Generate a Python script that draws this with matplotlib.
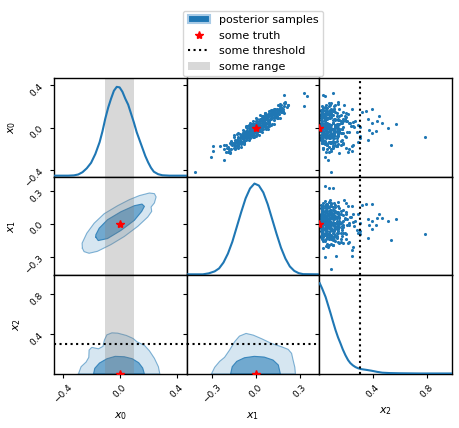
import numpy as np
import matplotlib
matplotlib.use("Agg")
import matplotlib.pyplot as plt
from matplotlib.patches import Patch
from matplotlib.lines import Line2D

plt.rcParams['font.size'] = 8

# parameter names, limits and ticks
labels = ['$x_0$', '$x_1$', '$x_2$']
limits = [(-0.46, 0.47), (-0.47, 0.43), (0.0, 0.99)]
ticks = [[-0.4, 0.0, 0.4], [-0.3, 0.0, 0.3], [0.4, 0.8]]
truth = [0.0, 0.0, 0.0]
threshold_x2 = 0.3
range_x0 = (-0.1, 0.1)

# posterior samples
core_x1 = [-0.01, 0.03, -0.06, 0.08, 0.00, -0.11, 0.05, -0.03, 0.12, -0.08,
           0.02, -0.04, 0.10, -0.14, 0.06, -0.02, 0.15, -0.09, 0.01, 0.04,
           -0.05, 0.07, -0.12, 0.13, 0.00, -0.07, 0.09, -0.01, 0.18, -0.16,
           0.03, -0.10, 0.11, -0.03, 0.06, -0.18, 0.14, -0.06, 0.02, 0.20,
           -0.02, 0.05, -0.13, 0.09, -0.08, 0.16, 0.00, -0.04, 0.12, -0.20,
           0.01, -0.07, 0.07, -0.15, 0.10, -0.01, 0.17, -0.11, 0.04, -0.05,
           0.08, -0.03, 0.13, -0.09, 0.03, 0.21, -0.17, 0.06, -0.12, 0.00,
           -0.06, 0.11, -0.02, 0.15, -0.10, 0.05, -0.14, 0.19, 0.02, -0.08,
           0.04, -0.04, 0.09, -0.19, 0.14, -0.06, 0.00, 0.12, -0.13, 0.07,
           -0.01, 0.17, -0.09, 0.06, -0.16, 0.10, 0.02, -0.04, 0.22, -0.11,
           0.05, -0.07, 0.13, -0.02, 0.08, -0.12, 0.01, 0.18, -0.05, 0.11,
           -0.03, 0.04, -0.10, 0.16, -0.14, 0.07, 0.00, -0.08, 0.13, 0.03,
           0.09, -0.05, 0.19, -0.17, 0.02, -0.01, 0.12, -0.09, 0.06, -0.13,
           0.00, 0.14, -0.06, 0.05, -0.11, 0.10, -0.02, 0.20, -0.15, 0.03,
           -0.08, 0.07, -0.03, 0.11, -0.19, 0.16, 0.01, -0.06, 0.08, -0.12]
core_x0 = [0.00, 0.01, -0.03, 0.08, -0.04, -0.10, 0.09, -0.04, 0.10, -0.08,
           0.05, -0.06, 0.09, -0.13, 0.02, -0.01, 0.16, -0.12, 0.05, 0.03,
           -0.03, 0.08, -0.16, 0.17, 0.02, -0.08, 0.05, 0.04, 0.19, -0.16,
           0.00, -0.08, 0.14, -0.05, 0.10, -0.20, 0.13, -0.10, 0.02, 0.23,
           -0.04, 0.08, -0.14, 0.06, -0.06, 0.21, 0.03, -0.03, 0.12, -0.23,
           0.00, -0.03, 0.05, -0.19, 0.14, -0.04, 0.15, -0.11, 0.06, -0.08,
           0.11, -0.03, 0.10, -0.10, 0.08, 0.20, -0.15, 0.05, -0.09, -0.02,
           -0.06, 0.13, 0.01, 0.14, -0.13, 0.02, -0.11, 0.21, 0.00, -0.05,
           0.08, -0.08, 0.12, -0.18, 0.18, -0.04, -0.05, 0.15, -0.17, 0.04,
           0.03, 0.17, -0.09, 0.07, -0.14, 0.08, 0.04, -0.01, 0.22, -0.14,
           0.03, -0.09, 0.15, -0.06, 0.12, -0.17, 0.01, 0.16, 0.00, 0.16,
           0.02, 0.06, -0.14, 0.19, -0.16, 0.11, 0.01, -0.10, 0.12, -0.01,
           0.14, -0.10, 0.23, -0.20, 0.00, 0.01, 0.18, -0.05, 0.02, -0.13,
           0.00, 0.11, -0.05, 0.10, -0.12, 0.13, -0.07, 0.24, -0.14, 0.06,
           -0.12, 0.10, 0.01, 0.10, -0.23, 0.18, 0.04, -0.08, 0.06, -0.15]
core_x2 = [0.02, 0.06, 0.11, 0.04, 0.15, 0.01, 0.08, 0.13, 0.03, 0.19,
           0.05, 0.09, 0.02, 0.07, 0.12, 0.17, 0.10, 0.04, 0.22, 0.01,
           0.03, 0.14, 0.06, 0.09, 0.01, 0.11, 0.16, 0.07, 0.05, 0.12,
           0.08, 0.02, 0.13, 0.18, 0.03, 0.06, 0.01, 0.10, 0.25, 0.07,
           0.11, 0.04, 0.09, 0.20, 0.14, 0.02, 0.07, 0.01, 0.16, 0.05,
           0.13, 0.06, 0.10, 0.03, 0.08, 0.21, 0.12, 0.17, 0.02, 0.09,
           0.01, 0.15, 0.05, 0.11, 0.18, 0.04, 0.14, 0.23, 0.07, 0.10,
           0.04, 0.09, 0.26, 0.06, 0.12, 0.13, 0.02, 0.11, 0.08, 0.16,
           0.19, 0.07, 0.03, 0.10, 0.15, 0.28, 0.05, 0.02, 0.13, 0.06,
           0.09, 0.01, 0.20, 0.14, 0.04, 0.11, 0.03, 0.17, 0.08, 0.02,
           0.12, 0.05, 0.18, 0.02, 0.07, 0.10, 0.30, 0.06, 0.14, 0.04,
           0.06, 0.21, 0.08, 0.03, 0.16, 0.01, 0.12, 0.05, 0.10, 0.15,
           0.07, 0.13, 0.09, 0.22, 0.04, 0.18, 0.11, 0.03, 0.24, 0.08,
           0.05, 0.02, 0.17, 0.09, 0.13, 0.06, 0.01, 0.14, 0.10, 0.27,
           0.10, 0.04, 0.12, 0.20, 0.07, 0.09, 0.15, 0.02, 0.18, 0.06]
dense_x1 = [0.00, -0.02, 0.04, -0.05, 0.07, -0.09, 0.11, -0.12, 0.02, 0.06,
            -0.03, 0.01, -0.07, 0.09, -0.01, 0.13, -0.10, 0.05, -0.15, 0.03,
            0.08, -0.06, 0.00, 0.10, -0.04, 0.15, -0.13, 0.06, -0.08, 0.01,
            -0.11, 0.04, -0.01, 0.12, -0.07, 0.07, -0.17, 0.02, 0.17, -0.03,
            0.05, -0.08, 0.10, -0.02, 0.14, -0.12, 0.00, 0.08, -0.05, 0.19,
            -0.01, 0.03, -0.09, 0.06, -0.14, 0.11, -0.04, 0.01, 0.15, -0.06,
            0.09, -0.03, 0.04, -0.10, 0.12, -0.07, 0.02, -0.18, 0.07, -0.01,
            -0.05, 0.13, -0.12, 0.03, -0.02, 0.08, -0.08, 0.16, 0.00, 0.05,
            0.02, -0.06, 0.10, -0.15, 0.06, -0.03, 0.14, -0.10, 0.04, -0.01,
            -0.08, 0.07, -0.04, 0.11, -0.13, 0.01, 0.18, -0.07, 0.09, -0.20,
            0.00, -0.05, 0.05, -0.11, 0.03, 0.12, -0.02, 0.08, -0.09, 0.16,
            -0.03, 0.06, -0.07, 0.02, 0.10, -0.14, 0.04, -0.01, 0.13, -0.06,
            0.07, -0.09, 0.01, -0.04, 0.15, -0.12, 0.09, -0.02, 0.04, -0.16,
            -0.01, 0.11, -0.06, 0.05, -0.10, 0.02, 0.17, -0.08, 0.07, -0.03,
            0.03, -0.05, 0.12, -0.13, 0.00, 0.08, -0.07, 0.14, -0.02, 0.05]
dense_x0 = [0.06, -0.09, 0.09, -0.11, -0.01, -0.02, 0.17, -0.17, -0.07, 0.14,
            -0.08, 0.08, 0.01, 0.02, -0.07, 0.18, -0.18, -0.01, -0.09, 0.12,
            0.02, 0.00, -0.08, 0.14, 0.05, 0.09, -0.17, 0.13, -0.15, -0.04,
            -0.06, -0.04, 0.04, 0.07, -0.10, 0.13, -0.12, -0.01, 0.22, 0.04,
            0.01, -0.14, 0.17, 0.04, 0.17, -0.05, 0.05, -0.01, -0.09, 0.14,
            -0.09, 0.07, -0.05, 0.14, -0.20, 0.04, 0.02, -0.06, 0.22, 0.02,
            0.16, -0.07, -0.01, -0.15, 0.04, 0.02, 0.05, -0.22, 0.01, 0.03,
            0.03, 0.17, -0.19, -0.03, 0.06, 0.05, -0.13, 0.09, 0.09, 0.11,
            -0.03, -0.03, 0.03, -0.07, 0.11, 0.02, 0.09, -0.07, 0.11, -0.04,
            -0.04, 0.00, -0.10, 0.17, -0.06, 0.06, 0.16, -0.11, 0.05, -0.16,
            0.02, -0.04, 0.07, -0.13, 0.03, 0.13, -0.03, 0.11, -0.08, 0.16,
            -0.03, 0.05, -0.05, 0.04, 0.11, -0.14, 0.02, 0.00, 0.12, -0.07,
            0.08, -0.10, -0.01, -0.01, 0.16, -0.10, 0.07, -0.05, 0.07, -0.14,
            -0.01, 0.13, -0.08, 0.03, -0.07, 0.02, 0.19, -0.08, 0.09, -0.01,
            0.02, -0.07, 0.09, -0.12, -0.01, 0.10, -0.06, 0.14, 0.00, 0.05]
dense_x2 = [0.04, 0.01, 0.07, 0.03, 0.10, 0.05, 0.02, 0.13, 0.06, 0.09,
            0.02, 0.12, 0.05, 0.08, 0.03, 0.11, 0.07, 0.15, 0.04, 0.01,
            0.06, 0.09, 0.14, 0.02, 0.05, 0.07, 0.10, 0.03, 0.18, 0.08,
            0.03, 0.06, 0.01, 0.12, 0.08, 0.04, 0.16, 0.10, 0.05, 0.13,
            0.07, 0.02, 0.09, 0.05, 0.03, 0.11, 0.06, 0.01, 0.04, 0.20,
            0.10, 0.04, 0.06, 0.02, 0.09, 0.14, 0.03, 0.08, 0.12, 0.05,
            0.01, 0.07, 0.11, 0.04, 0.06, 0.02, 0.17, 0.09, 0.03, 0.14,
            0.05, 0.08, 0.03, 0.13, 0.02, 0.10, 0.07, 0.04, 0.06, 0.19,
            0.08, 0.05, 0.02, 0.11, 0.15, 0.01, 0.06, 0.09, 0.04, 0.22,
            0.03, 0.12, 0.07, 0.05, 0.02, 0.16, 0.09, 0.01, 0.10, 0.06,
            0.05, 0.03, 0.01, 0.09, 0.07, 0.04, 0.12, 0.02, 0.06, 0.08,
            0.01, 0.04, 0.10, 0.06, 0.13, 0.05, 0.03, 0.08, 0.02, 0.11,
            0.06, 0.02, 0.09, 0.04, 0.07, 0.01, 0.15, 0.05, 0.10, 0.03,
            0.08, 0.03, 0.05, 0.12, 0.04, 0.02, 0.06, 0.13, 0.01, 0.07,
            0.04, 0.11, 0.07, 0.02, 0.03, 0.09, 0.14, 0.05, 0.06, 0.01]
tail_x0 = [-0.42, -0.088, 0.035, -0.164, -0.006, 0.047, 0.11, 0.063, 0.308, 0.299,
           0.33, 0.214, 0.182, 0.157, 0.176, 0.148, 0.082, 0.044, -0.022, -0.047,
           -0.031, -0.079, -0.113, -0.132, -0.302, -0.277, -0.214, -0.226, -0.173, -0.173,
           -0.164, 0.025, 0.057, 0.126, 0.226, 0.204, -0.145, -0.189, -0.236, -0.204,
           -0.189, -0.10]
tail_x1 = [-0.41, -0.092, 0.046, -0.147, 0.021, 0.052, 0.09, 0.052, 0.191, 0.349,
           0.327, 0.22, 0.159, 0.183, 0.183, 0.174, 0.043, 0.028, -0.009, -0.046,
           -0.009, -0.07, -0.131, -0.086, -0.214, -0.306, -0.291, -0.177, -0.241, -0.29,
           -0.214, 0.092, 0.092, 0.159, 0.16, 0.327, -0.178, -0.196, -0.173, -0.218,
           -0.14, -0.095]
tail_x2 = [0.084, 0.79, 0.575, 0.538, 0.514, 0.47, 0.449, 0.427, 0.025, 0.04,
           0.099, 0.185, 0.242, 0.346, 0.39, 0.316, 0.365, 0.39, 0.37, 0.39,
           0.42, 0.30, 0.36, 0.29, 0.064, 0.044, 0.247, 0.217, 0.242, 0.123,
           0.252, 0.286, 0.254, 0.212, 0.14, 0.07, 0.18, 0.10, 0.15, 0.03,
           0.20, 0.30]

# 1d marginals (height as fraction of the panel)
kde0_x = [-0.46, -0.36, -0.32, -0.29, -0.26, -0.23, -0.20, -0.17, -0.14, -0.12, -0.10,
          -0.08, -0.06, -0.04, -0.02, 0.00, 0.02, 0.04, 0.06, 0.08, 0.10, 0.12, 0.14,
          0.16, 0.18, 0.20, 0.22, 0.24, 0.27, 0.30, 0.35, 0.47]
kde0_y = [0.010, 0.010, 0.013, 0.022, 0.045, 0.085, 0.14, 0.23, 0.35, 0.46, 0.59,
          0.70, 0.79, 0.87, 0.91, 0.905, 0.86, 0.79, 0.73, 0.64, 0.55, 0.45, 0.37,
          0.29, 0.21, 0.145, 0.09, 0.05, 0.025, 0.014, 0.010, 0.010]
kde1_x = [-0.47, -0.36, -0.32, -0.28, -0.25, -0.22, -0.19, -0.16, -0.13, -0.10, -0.07,
          -0.04, -0.01, 0.02, 0.05, 0.08, 0.11, 0.14, 0.17, 0.20, 0.23, 0.26, 0.29,
          0.32, 0.43]
kde1_y = [0.010, 0.010, 0.020, 0.040, 0.070, 0.13, 0.22, 0.34, 0.49, 0.64, 0.78,
          0.88, 0.93, 0.91, 0.84, 0.72, 0.57, 0.42, 0.28, 0.17, 0.09, 0.045, 0.022,
          0.012, 0.010]
kde2_x = [0.003, 0.02, 0.047, 0.065, 0.084, 0.10, 0.121, 0.14, 0.158, 0.175, 0.195,
          0.215, 0.232, 0.25, 0.27, 0.29, 0.31, 0.35, 0.39, 0.43, 0.47, 0.53, 0.60,
          0.75, 0.99]
kde2_y = [0.92, 0.87, 0.78, 0.70, 0.615, 0.54, 0.445, 0.37, 0.31, 0.25, 0.19,
          0.14, 0.11, 0.088, 0.07, 0.058, 0.05, 0.042, 0.033, 0.022, 0.013, 0.009, 0.007,
          0.005, 0.005]

# 2d contours (outer = 95%, inner = 68%)
c10_outer_x0 = [-0.261, -0.249, -0.214, -0.155, -0.061, 0.033, 0.127, 0.197, 0.225, 0.221,
                0.244, 0.256, 0.244, 0.209, 0.138, 0.068, -0.014, -0.108, -0.178, -0.230, -0.263]
c10_outer_x1 = [-0.223, -0.254, -0.269, -0.251, -0.190, -0.116, -0.024, 0.061, 0.113, 0.153,
                0.190, 0.245, 0.275, 0.281, 0.257, 0.220, 0.165, 0.092, 0.006, -0.086, -0.177]
c10_inner_x0 = [-0.167, -0.150, -0.085, 0.009, 0.103, 0.155, 0.174, 0.157, 0.103, 0.009,
                -0.085, -0.143, -0.167]
c10_inner_x1 = [-0.122, -0.153, -0.135, -0.061, 0.031, 0.113, 0.159, 0.180, 0.165, 0.110,
                0.037, -0.040, -0.101]
c20_outer_x0 = [-0.289, -0.270, -0.235, -0.216, -0.214, -0.195, -0.148, -0.117, -0.106, -0.089,
                -0.054, -0.014, 0.047, 0.094, 0.122, 0.174, 0.209, 0.244, 0.272, 0.282]
c20_outer_x2 = [0.0, 0.073, 0.12, 0.167, 0.24, 0.267, 0.253, 0.277, 0.343, 0.393,
                0.413, 0.41, 0.387, 0.357, 0.323, 0.287, 0.233, 0.157, 0.073, 0.0]
c20_inner_x0 = [-0.183, -0.174, -0.141, -0.089, -0.031, 0.033, 0.089, 0.134, 0.162, 0.174]
c20_inner_x2 = [0.0, 0.057, 0.11, 0.153, 0.177, 0.173, 0.153, 0.113, 0.06, 0.0]
c21_outer_x1 = [-0.302, -0.280, -0.246, -0.213, -0.179, -0.145, -0.112, -0.067, -0.018, 0.04,
                0.105, 0.174, 0.219, 0.242, 0.251, 0.264, 0.268]
c21_outer_x2 = [0.0, 0.067, 0.127, 0.167, 0.24, 0.323, 0.38, 0.407, 0.39, 0.353,
                0.307, 0.273, 0.247, 0.207, 0.147, 0.067, 0.0]
c21_inner_x1 = [-0.172, -0.161, -0.130, -0.078, -0.011, 0.056, 0.116, 0.152, 0.166]
c21_inner_x2 = [0.0, 0.073, 0.127, 0.163, 0.177, 0.17, 0.14, 0.09, 0.0]

samples = [np.array(core_x0 + dense_x0 + tail_x0),
           np.array(core_x1 + dense_x1 + tail_x1),
           np.array(core_x2 + dense_x2 + tail_x2)]
kdes = [(kde0_x, kde0_y), (kde1_x, kde1_y), (kde2_x, kde2_y)]
contours = {(1, 0): (c10_outer_x0, c10_outer_x1, c10_inner_x0, c10_inner_x1),
            (2, 0): (c20_outer_x0, c20_outer_x2, c20_inner_x0, c20_inner_x2),
            (2, 1): (c21_outer_x1, c21_outer_x2, c21_inner_x1, c21_inner_x2)}

blue = '#1f77b4'
fig, axes = plt.subplots(3, 3, figsize=(4.59, 4.28), dpi=100,
                         gridspec_kw=dict(left=0.1176, right=0.9847, top=0.8178,
                                          bottom=0.1262, wspace=0, hspace=0))

for i in range(3):
    for j in range(3):
        ax = axes[i, j]
        if i == j:
            kx, ky = kdes[i]
            ax.plot(kx, ky, color=blue, lw=1.5, zorder=3,
                    transform=ax.get_xaxis_transform())
        elif i < j:
            ax.scatter(samples[j], samples[i], s=5, color=blue, linewidths=0, zorder=2)
            ax.plot(truth[j], truth[i], '*', color='red', ms=6, zorder=4)
        else:
            ox, oy, ix, iy = contours[(i, j)]
            ax.fill(ox, oy, facecolor=blue, alpha=0.18, lw=0, zorder=1)
            ax.fill(ix, iy, facecolor=blue, alpha=0.55, lw=0, zorder=1)
            ax.plot(ox + ox[:1], oy + oy[:1], color=blue, alpha=0.55, lw=0.8, zorder=1)
            ax.plot(ix + ix[:1], iy + iy[:1], color=blue, alpha=0.8, lw=0.8, zorder=1)
            ax.plot(truth[j], truth[i], '*', color='red', ms=6, zorder=4)

        # threshold on x2, range on x0
        if j == 2:
            ax.axvline(threshold_x2, color='black', ls=':', lw=1.5, zorder=3)
        if i == 2 and j < 2:
            ax.axhline(threshold_x2, color='black', ls=':', lw=1.5, zorder=3)
        if j == 0:
            ax.axvspan(*range_x0, color='gray', alpha=0.3, lw=0, zorder=2)

        ax.set_xlim(limits[j])
        ax.set_ylim(limits[i])
        ax.set_xticks(ticks[j])
        ax.set_yticks(ticks[i])
        ax.tick_params(direction='out', length=3, width=0.8, labelsize=6.5,
                       labelrotation=45)
        for s in ax.spines.values():
            s.set_linewidth(1.0)
        if i < 2:
            ax.tick_params(labelbottom=False)
        else:
            ax.set_xlabel(labels[j])
        if j > 0:
            ax.tick_params(labelleft=False)
        else:
            ax.set_ylabel(labels[i])

handles = [Patch(facecolor=blue, edgecolor='#a9cbe6', lw=1.5),
           Line2D([], [], marker='*', color='red', ls='none', ms=6),
           Line2D([], [], color='black', ls=':', lw=1.5),
           Patch(facecolor='gray', alpha=0.3)]
names = ['posterior samples', 'some truth', 'some threshold', 'some range']
fig.legend(handles, names, loc='upper center', bbox_to_anchor=(253 / 459, 1 - 5 / 428))

fig.savefig('out.png', dpi=100)
